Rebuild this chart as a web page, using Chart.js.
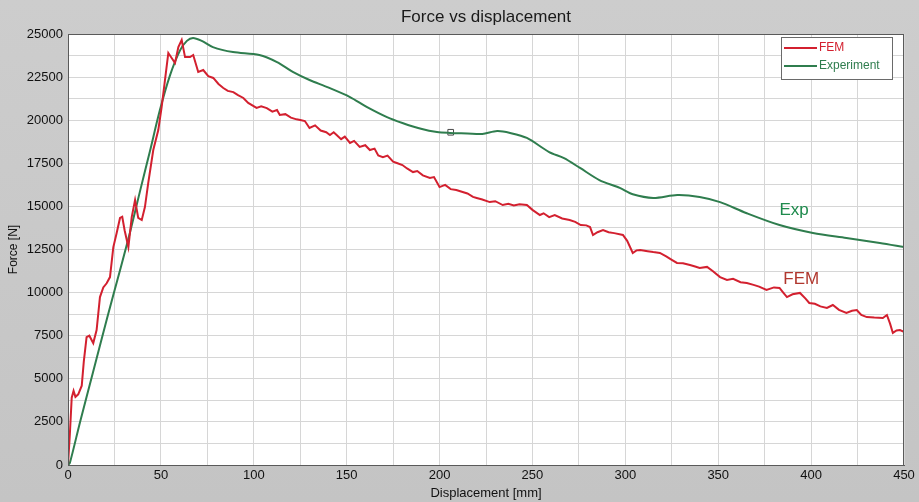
<!DOCTYPE html>
<html>
<head>
<meta charset="utf-8">
<script src="https://cdn.jsdelivr.net/npm/chart.js@4/dist/chart.umd.min.js"></script>
<style>
  body { margin: 0; background: #c8c8c8; }
  #wrap { width: 919px; height: 502px; position: relative; }
</style>
</head>
<body>
<div id="wrap"><canvas id="myChart"></canvas></div>
<script>
// Experiment curve (displacement mm, force N)
const expX = [0, 1, 6.5, 13.5, 21, 28, 33.4, 38.8, 44.1, 49.5, 54.9, 60.3, 64, 67.3, 72, 78, 88.8, 103, 112.5, 121, 130, 140, 151.8, 161, 171.7, 180, 190, 198.6, 205.6, 215, 223, 231, 238, 247, 259, 267, 275.6, 286, 297, 304, 315, 328, 340, 351, 365, 383, 401, 419, 437, 450];
const expY = [0, 120, 2500, 5400, 8500, 11300, 13500, 15900, 18200, 20600, 22600, 24050, 24600, 24770, 24600, 24240, 23950, 23780, 23370, 22800, 22330, 21900, 21340, 20760, 20180, 19840, 19500, 19310, 19260, 19230, 19200, 19370, 19260, 18970, 18150, 17800, 17230, 16530, 16070, 15700, 15490, 15660, 15550, 15250, 14620, 13920, 13460, 13170, 12880, 12640];

// FEM curve
const femX = [0, 1, 2, 3, 4, 5.5, 7.4, 8.5, 10, 11.5, 13.6, 15.4, 17.2, 19, 20.8, 22.6, 24.4, 26.2, 28, 29.2, 30.5, 32.5, 34.3, 36.1, 37.8, 39.7, 41.4, 43.2, 45.9, 48.6, 50.4, 52.2, 54, 55.8, 57.6, 59.4, 61.2, 63, 65.7, 67.4, 70.1, 72.8, 75.5, 78.2, 81, 83.6, 86, 89, 91.5, 94.4, 97, 101.5, 104, 107, 110, 112.5, 114, 117, 120, 123, 125, 127.5, 130, 133, 136, 139, 141, 143, 144.6, 147, 149, 151.8, 154, 157, 160, 162.5, 165, 167, 169.5, 172, 175, 177, 180, 182.5, 185.7, 188, 191, 194.8, 197, 200, 203, 206, 209, 212, 215, 218, 220, 223, 227, 230, 234, 237, 240, 243, 247, 250, 254, 256, 259, 262, 266, 270, 273, 276, 279, 281, 282.6, 285, 288, 291, 294, 298.7, 301, 304, 306, 308, 312, 315, 318.6, 322, 325, 327.8, 331, 334.8, 338, 340, 344, 347, 351, 354.7, 358, 362, 365.4, 369, 372, 376, 380, 383, 385, 387, 390, 394, 397, 399, 402, 405, 408.5, 411.7, 415, 419, 422, 424.6, 427, 430, 434, 438.6, 440.8, 442.5, 444, 446, 447.8, 450];
const femY = [0, 1800, 3900, 4300, 3950, 4100, 4600, 6000, 7420, 7500, 7070, 7830, 9740, 10300, 10540, 10900, 12640, 13460, 14330, 14400, 13600, 12640, 14380, 15370, 14330, 14210, 14960, 16360, 18270, 19430, 20760, 22330, 23900, 23610, 23320, 24240, 24650, 23660, 23660, 23780, 22800, 22910, 22550, 22450, 22100, 21870, 21700, 21630, 21450, 21290, 21000, 20710, 20800, 20700, 20500, 20590, 20300, 20350, 20150, 20050, 20010, 19950, 19550, 19700, 19400, 19300, 19140, 19300, 19140, 18900, 19050, 18680, 18800, 18450, 18550, 18270, 18350, 17950, 17860, 17950, 17600, 17520, 17400, 17200, 16990, 17050, 16800, 16650, 16700, 16120, 16250, 16000, 15950, 15850, 15750, 15550, 15490, 15400, 15250, 15300, 15080, 15150, 15050, 15120, 15080, 14800, 14500, 14600, 14380, 14500, 14300, 14210, 14100, 13920, 13900, 13800, 13340, 13500, 13630, 13500, 13450, 13340, 13000, 12300, 12450, 12470, 12400, 12350, 12300, 12100, 11900, 11720, 11700, 11600, 11500, 11430, 11490, 11250, 10900, 10730, 10800, 10600, 10560, 10450, 10350, 10150, 10300, 10270, 10000, 9740, 9900, 9980, 9650, 9400, 9350, 9200, 9110, 9280, 9000, 8820, 8950, 8990, 8700, 8580, 8550, 8530, 8700, 8200, 7660, 7800, 7830, 7720];

// cursor marker on the experiment curve
const markerX = [206];
const markerY = [19300];

// text labels near the curve ends
const noteLabels = ['Exp', 'FEM'];
const noteX = [383, 385];
const noteY = [14790, 10790];
const noteColors = ['#1e8a4c', '#b0372e'];

const titleText = 'Force vs displacement';
const femColor = '#d3202f';
const expColor = '#2f7d4e';

function toPoints(xs, ys) {
  return xs.map((x, i) => ({ x: x, y: ys[i] }));
}

// gray frame + white plot area + border
const framePlugin = {
  id: 'frame',
  beforeDraw(chart) {
    const { ctx, chartArea: a, width, height } = chart;
    ctx.save();
    const g = ctx.createLinearGradient(0, 0, 0, height);
    g.addColorStop(0, '#cdcdcd');
    g.addColorStop(1, '#c4c4c4');
    ctx.fillStyle = g;
    ctx.fillRect(0, 0, width, height);
    ctx.fillStyle = '#ffffff';
    ctx.fillRect(a.left, a.top, a.right - a.left, a.bottom - a.top);
    ctx.restore();
  },
  afterDraw(chart) {
    const { ctx, chartArea: a } = chart;
    ctx.save();
    ctx.strokeStyle = '#5a5a5a';
    ctx.lineWidth = 1;
    ctx.strokeRect(a.left + 0.5, a.top + 0.5, a.right - a.left - 1, a.bottom - a.top);
    // title centered on plot area
    ctx.fillStyle = '#1a1a1a';
    ctx.font = '17px "Liberation Sans", Arial, sans-serif';
    ctx.textAlign = 'center';
    ctx.textBaseline = 'middle';
    ctx.fillText(titleText, (a.left + a.right) / 2, 17);
    ctx.restore();
  },
};

// boxed legend in the top right corner
const legendBoxPlugin = {
  id: 'legendBox',
  afterDraw(chart) {
    const ctx = chart.ctx;
    const a = chart.chartArea;
    const sets = chart.data.datasets.filter((d) => !d.hideInLegend);
    const x0 = a.right - 123, y0 = a.top + 3, w = 111, h = 42;
    ctx.save();
    ctx.fillStyle = '#ffffff';
    ctx.fillRect(x0, y0, w, h);
    ctx.strokeStyle = '#6a6a6a';
    ctx.lineWidth = 1;
    ctx.strokeRect(x0 + 0.5, y0 + 0.5, w, h);
    ctx.font = '12px "Liberation Sans", Arial, sans-serif';
    ctx.textBaseline = 'middle';
    sets.forEach((d, i) => {
      const y = y0 + 11 + i * 18;
      ctx.strokeStyle = d.borderColor;
      ctx.lineWidth = 2;
      ctx.beginPath();
      ctx.moveTo(x0 + 3, y);
      ctx.lineTo(x0 + 36, y);
      ctx.stroke();
      ctx.fillStyle = d.borderColor;
      ctx.fillText(d.label, x0 + 38, y);
    });
    ctx.restore();
  },
};

// "Exp" / "FEM" annotations placed with the scales
const notesPlugin = {
  id: 'notes',
  afterDatasetsDraw(chart) {
    const ctx = chart.ctx;
    const xs = chart.scales.x, ys = chart.scales.y;
    ctx.save();
    ctx.font = '17px "Liberation Sans", Arial, sans-serif';
    ctx.textBaseline = 'middle';
    noteLabels.forEach((t, i) => {
      ctx.fillStyle = noteColors[i];
      ctx.fillText(t, xs.getPixelForValue(noteX[i]), ys.getPixelForValue(noteY[i]));
    });
    ctx.restore();
  },
};

const tickFont = { family: '"Liberation Sans", Arial, sans-serif', size: 13 };

new Chart(document.getElementById('myChart'), {
  type: 'scatter',
  data: {
    datasets: [
      {
        label: 'FEM',
        data: toPoints(femX, femY),
        showLine: true,
        borderColor: femColor,
        borderWidth: 2,
        pointRadius: 0,
        tension: 0,
      },
      {
        label: 'Experiment',
        data: toPoints(expX, expY),
        showLine: true,
        borderColor: expColor,
        borderWidth: 2,
        pointRadius: 0,
        tension: 0.3,
      },
      {
        label: 'marker',
        hideInLegend: true,
        data: toPoints(markerX, markerY),
        pointStyle: 'rect',
        pointRadius: 4,
        backgroundColor: 'rgba(0,0,0,0)',
        borderColor: '#4a4a4a',
        borderWidth: 1,
      },
    ],
  },
  options: {
    responsive: true,
    maintainAspectRatio: false,
    animation: false,
    layout: { padding: { top: 34, right: 15, left: 0, bottom: 0 } },
    plugins: {
      legend: { display: false },
      tooltip: { enabled: false },
    },
    scales: {
      x: {
        type: 'linear',
        min: 0,
        max: 450,
        afterFit: (scale) => { scale.height = 37; },
        ticks: {
          stepSize: 25,
          autoSkip: false,
          maxRotation: 0,
          padding: 3,
          color: '#111',
          font: tickFont,
          callback: (v) => (v % 50 === 0 ? v : ''),
        },
        grid: { color: '#d6d6d6', drawTicks: false },
        border: { color: '#5a5a5a' },
        title: {
          display: true,
          text: 'Displacement [mm]',
          color: '#111',
          font: tickFont,
          padding: { top: 0, bottom: 1 },
        },
      },
      y: {
        min: 0,
        max: 25000,
        afterFit: (scale) => { scale.width = 68; },
        ticks: {
          stepSize: 1250,
          autoSkip: false,
          padding: 5,
          color: '#111',
          font: tickFont,
          callback: (v) => (v % 2500 === 0 ? v : ''),
        },
        grid: { color: '#d6d6d6', drawTicks: false },
        border: { color: '#5a5a5a' },
        title: {
          display: true,
          text: 'Force [N]',
          color: '#111',
          font: { family: '"Liberation Sans", Arial, sans-serif', size: 12 },
          padding: { top: 6, bottom: 0 },
        },
      },
    },
  },
  plugins: [framePlugin, legendBoxPlugin, notesPlugin],
});
</script>
</body>
</html>
